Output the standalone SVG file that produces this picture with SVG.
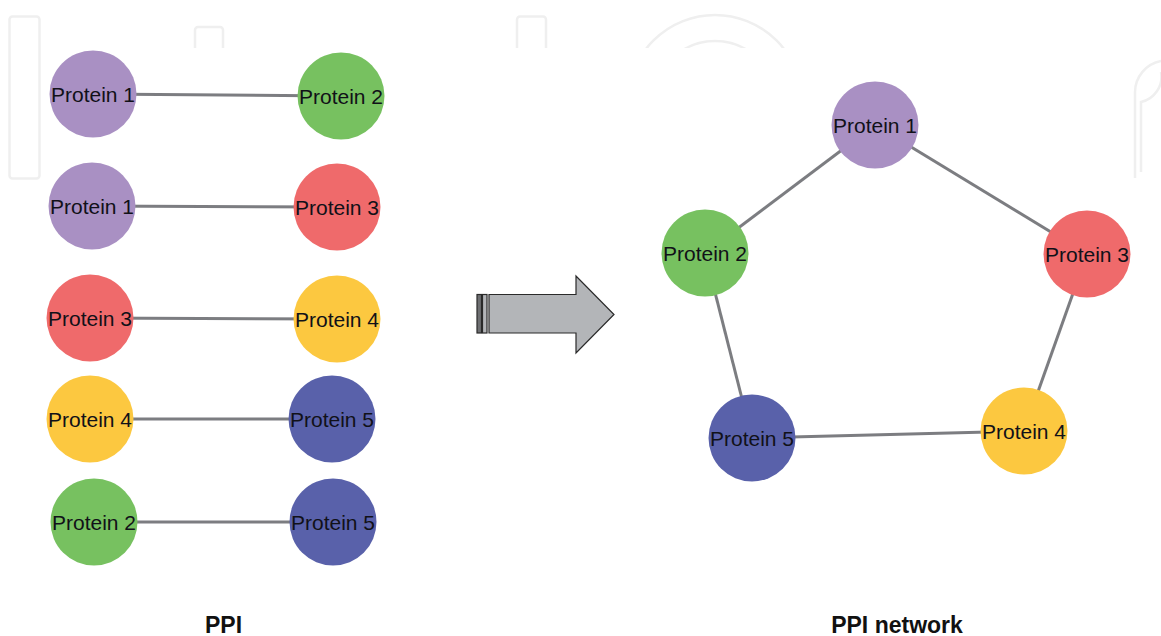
<svg xmlns="http://www.w3.org/2000/svg" width="1161" height="636" viewBox="0 0 1161 636">
<defs>
<style>
.bg{fill:#ffffff}
.wm{fill:none;stroke:#efefef;stroke-width:2.5}
.edge{stroke:#7c7d81;stroke-width:3;fill:none}
.p1{fill:#a990c3}
.p2{fill:#77c160}
.p3{fill:#ef6a6b}
.p4{fill:#fcc840}
.p5{fill:#5961aa}
.lbl{font-family:"Liberation Sans",Arial,sans-serif;font-size:21px;fill:#111118;text-anchor:middle}
.title{font-family:"Liberation Sans",Arial,sans-serif;font-size:23px;font-weight:bold;fill:#111111;text-anchor:middle}
.arrow{fill:#b3b5b8;stroke:#2a2a2a;stroke-width:1.2}
</style>
<clipPath id="wmclip"><rect x="0" y="0" width="1161" height="48"/></clipPath>
</defs>
<rect class="bg" x="0" y="0" width="1161" height="636"/>
<g id="watermark">
<rect class="wm" x="9.5" y="16.5" width="30" height="162" rx="3"/>
<g clip-path="url(#wmclip)">
<rect class="wm" x="195" y="27" width="28" height="40" rx="3"/>
<rect class="wm" x="517" y="16.5" width="29" height="50" rx="3"/>
<circle class="wm" cx="715" cy="102" r="87"/>
<circle class="wm" cx="715" cy="102" r="61"/>
</g>
<path class="wm" d="M1135,178 V92 A32,32 0 0 1 1161,61"/>
<path class="wm" d="M1141,172 V102 A26,26 0 0 0 1161,72"/>
</g>
<g id="connectors">
<line class="edge" x1="93" y1="94" x2="341" y2="96"/>
<line class="edge" x1="92" y1="206" x2="337" y2="207"/>
<line class="edge" x1="90" y1="318" x2="337" y2="319"/>
<line class="edge" x1="90" y1="419" x2="332" y2="419"/>
<line class="edge" x1="94" y1="522" x2="333" y2="522"/>
<line class="edge" x1="875" y1="125" x2="705" y2="253"/>
<line class="edge" x1="875" y1="125" x2="1087" y2="254"/>
<line class="edge" x1="1087" y1="254" x2="1024" y2="431"/>
<line class="edge" x1="705" y1="253" x2="752" y2="438"/>
<line class="edge" x1="752" y1="438" x2="1024" y2="431"/>
</g>
<g id="ppi-1a"><circle class="p1" cx="93" cy="94" r="43.5"/><text class="lbl" x="93" y="101.5">Protein 1</text></g>
<g id="ppi-1b"><circle class="p2" cx="341" cy="96" r="43.5"/><text class="lbl" x="341" y="103.5">Protein 2</text></g>
<g id="ppi-2a"><circle class="p1" cx="92" cy="206" r="43.5"/><text class="lbl" x="92" y="213.5">Protein 1</text></g>
<g id="ppi-2b"><circle class="p3" cx="337" cy="207" r="43.5"/><text class="lbl" x="337" y="214.5">Protein 3</text></g>
<g id="ppi-3a"><circle class="p3" cx="90" cy="318" r="43.5"/><text class="lbl" x="90" y="325.5">Protein 3</text></g>
<g id="ppi-3b"><circle class="p4" cx="337" cy="319" r="43.5"/><text class="lbl" x="337" y="326.5">Protein 4</text></g>
<g id="ppi-4a"><circle class="p4" cx="90" cy="419" r="43.5"/><text class="lbl" x="90" y="426.5">Protein 4</text></g>
<g id="ppi-4b"><circle class="p5" cx="332" cy="419" r="43.5"/><text class="lbl" x="332" y="426.5">Protein 5</text></g>
<g id="ppi-5a"><circle class="p2" cx="94" cy="522" r="43.5"/><text class="lbl" x="94" y="529.5">Protein 2</text></g>
<g id="ppi-5b"><circle class="p5" cx="333" cy="522" r="43.5"/><text class="lbl" x="333" y="529.5">Protein 5</text></g>
<g id="arrow">
<rect x="477" y="294.5" width="4.5" height="38.5" fill="#6e6f72" stroke="#2a2a2a" stroke-width="1.2"/>
<rect x="482.5" y="294.5" width="4.5" height="38.5" class="arrow"/>
<path class="arrow" d="M489,294.5 H576 V276 L614,314.5 L576,353 V333 H489 Z"/>
</g>
<g id="net-1"><circle class="p1" cx="875" cy="125" r="43.5"/><text class="lbl" x="875" y="132.5">Protein 1</text></g>
<g id="net-2"><circle class="p2" cx="705" cy="253" r="43.5"/><text class="lbl" x="705" y="260.5">Protein 2</text></g>
<g id="net-3"><circle class="p3" cx="1087" cy="254" r="43.5"/><text class="lbl" x="1087" y="261.5">Protein 3</text></g>
<g id="net-4"><circle class="p4" cx="1024" cy="431" r="43.5"/><text class="lbl" x="1024" y="438.5">Protein 4</text></g>
<g id="net-5"><circle class="p5" cx="752" cy="438" r="43.5"/><text class="lbl" x="752" y="445.5">Protein 5</text></g>
<g id="labels">
<text class="title" x="223.5" y="633">PPI</text>
<text class="title" x="897" y="633">PPI network</text>
</g>
</svg>
